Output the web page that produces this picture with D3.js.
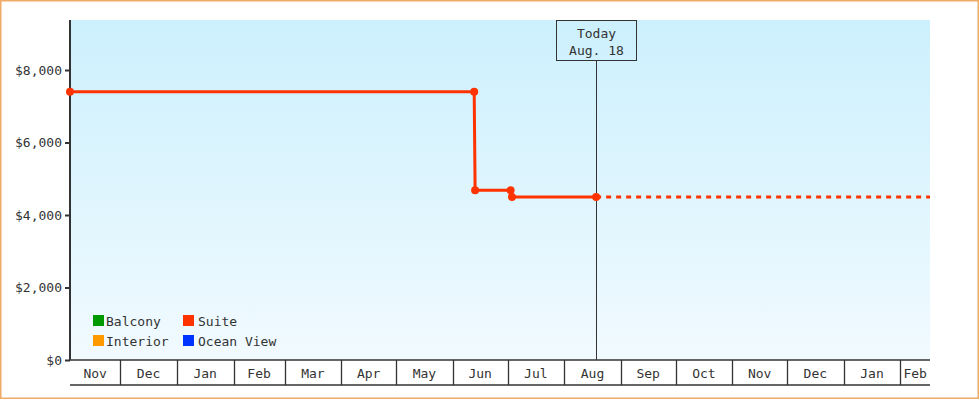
<!DOCTYPE html>
<html>
<head>
<meta charset="utf-8">
<script src="https://cdn.jsdelivr.net/npm/d3@7"></script>
<style>
	body { margin: 0; background: #fff; }
	svg text { font-family: "DejaVu Sans Mono", "Liberation Mono", monospace; font-size: 13px; fill: #333; }
</style>
</head>
<body>
<div id="chart"></div>
<script>
// time range shown on the x axis
let xStart			= new Date(2012, 10, 3, 12);
let xEnd			= new Date(2014, 1, 17, 6);
let today			= new Date(2013, 7, 18, 12);
let todayLabel		= ['Today', 'Aug. 18'];

// price history, suite cabins
let suiteDates		= [
	new Date(2012, 10, 3, 12),
	new Date(2013, 5, 12, 18),
	new Date(2013, 5, 13, 6),
	new Date(2013, 6, 2, 16),
	new Date(2013, 6, 3, 10),
	new Date(2013, 7, 18, 12)
];
let suitePrices		= [7400, 7400, 4680, 4680, 4500, 4500];

let yMax			= 9380;
let yTicks			= [0, 2000, 4000, 6000, 8000];

let legendNames		= ['Balcony', 'Suite', 'Interior', 'Ocean View'];
let legendColors	= ['#009900', '#ff3300', '#ff9900', '#0033ff'];

let canvasWidth		= 980;
let canvasHeight	= 400;
let margin			= { top: 20, right: 50, bottom: 40, left: 70 };
let width			= canvasWidth - margin.left - margin.right;
let height			= canvasHeight - margin.top - margin.bottom;
let bandHeight		= 25;

let x				= d3.scaleTime().domain([xStart, xEnd]).range([0, width]);
let y				= d3.scaleLinear().domain([0, yMax]).range([height, 0]);

let root = d3.select('#chart').append('svg')
	.attr('width', canvasWidth)
	.attr('height', canvasHeight);

root.append('rect')
	.attr('x', 0.75).attr('y', 0.75)
	.attr('width', canvasWidth - 2.5).attr('height', canvasHeight - 2.5)
	.attr('fill', 'none')
	.attr('stroke', '#eeaa66')
	.attr('stroke-width', 1.5);

let grad = root.append('defs').append('linearGradient')
	.attr('id', 'bg').attr('x1', 0).attr('y1', 0).attr('x2', 0).attr('y2', 1);
grad.append('stop').attr('offset', '0%').attr('stop-color', '#ccf0fd');
grad.append('stop').attr('offset', '100%').attr('stop-color', '#f1faff');

let svg = root.append('g')
	.attr('transform', 'translate(' + margin.left + ',' + margin.top + ')');

svg.append('rect')
	.attr('width', width)
	.attr('height', height)
	.attr('fill', 'url(#bg)');

// month band under the plot
let months		= d3.timeMonth.range(d3.timeMonth.floor(xStart), xEnd);
let fmtMonth	= d3.timeFormat('%b');
let band		= svg.append('g').attr('transform', 'translate(0,' + height + ')');

band.selectAll('.month')
	.data(months).enter().append('text')
		.attr('class', 'month')
		.attr('x', (d) => {
			let a = Math.max(x(d), 0);
			let b = Math.min(x(d3.timeMonth.offset(d, 1)), width);
			return (a + b) / 2;
		})
		.attr('y', bandHeight / 2 + 1)
		.attr('dy', '0.35em')
		.attr('text-anchor', 'middle')
		.text((d) => fmtMonth(d));

band.selectAll('.sep')
	.data(months.filter((d) => d > xStart)).enter().append('line')
		.attr('class', 'sep')
		.attr('x1', (d) => Math.round(x(d)) + 0.5)
		.attr('x2', (d) => Math.round(x(d)) + 0.5)
		.attr('y1', 0).attr('y2', bandHeight)
		.attr('stroke', '#333').attr('stroke-width', 1.3);

band.selectAll('.hline')
	.data([0, bandHeight]).enter().append('line')
		.attr('x1', 0).attr('x2', width)
		.attr('y1', (d) => d).attr('y2', (d) => d)
		.attr('stroke', '#333').attr('stroke-width', 1.5);

// y axis
let yAxis = svg.append('g')
	.call(d3.axisLeft(y).tickValues(yTicks).tickSize(5).tickPadding(3)
		.tickFormat((d) => '$' + d3.format(',')(d)));
yAxis.select('.domain').remove();
yAxis.selectAll('.tick line').attr('stroke', '#333').attr('stroke-width', 2);
yAxis.selectAll('.tick text').attr('fill', '#333')
	.style('font-family', '"DejaVu Sans Mono", monospace').style('font-size', '13px');

svg.append('line')
	.attr('x1', 0).attr('x2', 0)
	.attr('y1', 0).attr('y2', height)
	.attr('stroke', '#333').attr('stroke-width', 2);

// today marker
let tx = Math.round(x(today)) + 0.5;
svg.append('line')
	.attr('x1', tx).attr('x2', tx)
	.attr('y1', 40).attr('y2', height)
	.attr('stroke', '#333').attr('stroke-width', 1);
svg.append('rect')
	.attr('x', tx - 40).attr('y', 0.5)
	.attr('width', 80).attr('height', 40)
	.attr('fill', 'none')
	.attr('stroke', '#333').attr('stroke-width', 1);
svg.selectAll('.today')
	.data(todayLabel).enter().append('text')
		.attr('class', 'today')
		.attr('x', tx)
		.attr('y', (d, i) => 13 + i * 17)
		.attr('dy', '0.35em')
		.attr('text-anchor', 'middle')
		.text((d) => d);

// suite price line
let suite = suiteDates.map((d, i) => ({ date: d, price: suitePrices[i] }));
let line = d3.line().x((o) => x(o.date)).y((o) => y(o.price));

svg.append('path')
	.datum(suite)
	.attr('d', line)
	.attr('fill', 'none')
	.attr('stroke', '#ff3300')
	.attr('stroke-width', 3);

let last = suite[suite.length - 1];
svg.append('path')
	.datum([last, { date: xEnd, price: last.price }])
	.attr('d', line)
	.attr('fill', 'none')
	.attr('stroke', '#ff3300')
	.attr('stroke-width', 3)
	.attr('stroke-dasharray', '5,5');

svg.selectAll('.dot')
	.data(suite).enter().append('circle')
		.attr('class', 'dot')
		.attr('cx', (o) => x(o.date))
		.attr('cy', (o) => y(o.price))
		.attr('r', 4)
		.attr('fill', '#ff3300');

// legend
let legend = svg.selectAll('.legend')
	.data(legendNames).enter().append('g')
		.attr('class', 'legend')
		.attr('transform', (d, i) => 'translate(' + (23 + (i % 2) * 90) + ',' + (295 + Math.floor(i / 2) * 20) + ')');

legend.append('rect')
	.attr('width', 11).attr('height', 11)
	.attr('fill', (d, i) => legendColors[i]);

legend.append('text')
	.attr('x', (d, i) => (i % 2) ? 15 : 13)
	.attr('y', 6)
	.attr('dy', '0.35em')
	.text((d) => d);
</script>
</body>
</html>
